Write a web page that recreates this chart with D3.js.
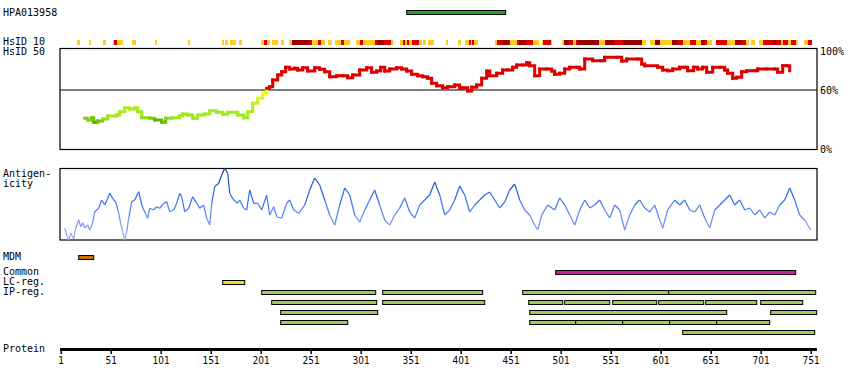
<!DOCTYPE html>
<html>
<head>
<meta charset="utf-8">
<script src="https://cdn.jsdelivr.net/npm/d3@7"></script>
<style>
  body { margin: 0; background: #fff; }
  svg text { font-family: "DejaVu Sans Mono", monospace; font-size: 10px; fill: #000; }
  svg text.tick { font-family: "Liberation Sans Narrow", "DejaVu Sans Condensed", sans-serif; font-size: 10px; }
</style>
</head>
<body>
<svg width="850" height="390"></svg>
<script>
// antibody region (residues)
const hpaRange = [347, 446];

// HsID 10 strip: [start, end, level]  g = gold, r = red, d = dark red
const hsidSegs = [
  [18,21,'g'],[30,32,'g'],[44,47,'g'],[54,55,'g'],[55,58,'r'],[58,64,'g'],[73,77,'g'],[96,98,'g'],[129,131,'g'],
  [163,165,'g'],[166,169,'g'],[171,177,'g'],[180,183,'g'],[202,205,'g'],[205,208,'r'],[208,211,'g'],[213,219,'g'],
  [222,225,'g'],[230,233,'g'],[233,250,'d'],[250,253,'r'],[253,259,'g'],[259,262,'r'],[262,266,'g'],[269,273,'g'],
  [276,282,'g'],[282,285,'r'],[285,291,'g'],[297,301,'g'],[301,304,'r'],[304,316,'g'],[316,319,'r'],[319,325,'d'],
  [325,332,'r'],[332,334,'g'],[341,344,'g'],[344,346,'r'],[346,348,'g'],[348,350,'r'],[350,353,'g'],[353,360,'r'],
  [360,363,'g'],[364,367,'g'],[369,375,'g'],[387,389,'g'],[399,402,'g'],[406,410,'g'],[410,412,'r'],[412,413,'g'],
  [413,415,'r'],[415,419,'g'],[436,438,'g'],[438,444,'r'],[444,450,'d'],[450,451,'r'],[451,458,'g'],[458,460,'r'],
  [460,467,'d'],[467,474,'r'],[474,480,'g'],[483,484,'g'],[484,492,'r'],[492,493,'g'],[503,505,'g'],[505,510,'d'],
  [510,514,'r'],[514,517,'g'],[517,519,'r'],[519,540,'d'],[540,546,'g'],[546,555,'d'],[555,564,'r'],[564,583,'d'],
  [583,587,'g'],[591,596,'g'],[596,601,'d'],[601,613,'g'],[613,618,'d'],[618,624,'r'],[624,631,'g'],[631,637,'r'],
  [637,642,'g'],[642,646,'d'],[646,648,'r'],[648,653,'g'],[657,668,'r'],[668,676,'g'],[676,682,'d'],[682,687,'r'],
  [687,690,'g'],[692,696,'g'],[700,704,'g'],[704,714,'r'],[714,717,'d'],[717,722,'r'],[722,724,'g'],[724,729,'r'],
  [729,732,'g'],[732,737,'r'],[737,739,'g'],[745,749,'g'],[749,753,'r']
];

// HsID 50 conservation (%)
const consPos = [25,28,32,34,38,43,48,57,60,65,70,75,78,82,90,95,102,106,113,120,123,128,133,138,145,150,157,163,168,173,178,184,188,
  193,198,203,207,210,213,218,222,226,230,235,238,243,248,255,260,265,270,277,283,288,293,300,307,312,317,321,325,330,337,342,347,
  352,358,363,368,372,377,383,388,395,400,403,408,412,417,422,427,430,437,443,448,453,457,463,467,470,475,480,487,492,495,500,505,
  510,517,520,525,533,542,545,557,562,567,578,582,585,598,603,608,613,620,625,628,634,638,643,647,653,660,665,668,673,677,682,687,
  695,698,707,715,718,723,727,730];
const consVal = [31.7,30,32.3,27.7,29,31,34,35,38.3,42.3,41,42.3,38.3,32.3,31.7,30,27.7,31.7,32.3,34.3,36,35,31.7,35,36,39.3,37.7,
  35.7,37.7,37.7,35,32.3,38.3,46.7,51.7,56.7,61.7,63.3,70,75,78.3,82.7,81,81.7,80,82.3,79,82.3,80.7,78.3,73.3,74.3,74.3,72.3,75,80,
  82.3,77.7,79,82.7,79,81,82.3,81,79,75.7,74.3,73.3,71.7,66.7,64.3,62.3,63.3,65,61.7,62.3,59,62.7,65,71.7,79,74.3,76.7,80,80,82.7,
  85,85,87.3,84.3,74.3,81,81,79,75.7,76.7,81,82.7,82.7,81,91,89.3,89.3,92.7,92.7,89,91,91,86,84.3,82.7,80,79.3,81,82.7,82.7,79.3,
  82.7,81,82.7,77.7,82.7,82.7,80,76.7,71.7,72.7,78.3,79.3,79.3,81,81,81,77.7,84.3,84.3,79.3];

// antigenicity score
const antiPos = [5,7,9,11,14,16,19,21,23,25,28,30,33,35,39,42,45,48,50,54,56,59,61,63,65,67,69,72,75,79,82,85,88,90,94,97,100,104,
  107,110,114,117,120,122,125,129,133,137,140,144,147,150,152,155,159,162,165,168,170,174,178,180,184,187,190,194,198,202,207,210,
  214,217,222,227,230,234,239,245,250,255,260,265,270,275,280,285,290,295,300,305,310,315,320,325,330,335,340,345,350,355,360,365,
  370,375,380,385,390,395,400,405,410,415,420,425,430,435,440,445,450,455,460,465,470,475,478,482,488,495,500,505,510,515,520,525,
  530,535,540,545,550,555,560,565,570,575,580,585,590,595,600,603,608,615,620,625,630,635,640,645,650,655,660,665,670,675,680,685,
  690,695,700,705,710,715,720,725,730,735,740,745,751];
const antiVal = [11.7,5,0,7,1,12,20,13.3,17.3,12,15,10,17,28.3,31.7,40,35,41.7,46.7,40,38.3,26.7,16.7,8.3,0,8.3,21.7,38.3,40,48.3,
  35,28.3,21.7,31.7,30,33.3,31.7,36.7,38.3,28.3,30,36.7,46.7,43.3,28.3,31.7,43.3,36.7,31.7,35,21.7,15,36.7,53.3,56.7,65,71.7,66.7,
  46.7,40,36.7,40,31.7,30,50,36.7,36.7,30,45,25,33.3,23.3,21.7,36.7,40,30,26.7,35,50,62,55,40,25,15,35,52,45,25,18,30,40,50,35,20,
  15,25,32,42,28,22,35,40,45,58,45,25,30,40,54,45,28,35,40,45,48,40,32,38,50,56,40,30,25,15,10,25,35,30,42,35,25,15,30,40,32,35,40,
  30,22,35,30,10,25,35,40,32,28,35,20,12,30,40,35,40,30,28,35,22,12,30,35,40,45,35,40,30,32,25,30,22,28,25,35,40,52,40,25,20,10];

// feature tracks: [start, end]
const mdm = [[19, 34]];
const common = [[496, 736]];
const lcReg = [[163, 185]];
const ipRows = [
  [[202, 316], [323, 423], [463, 609], [609, 756]],
  [[212, 317], [323, 425], [469, 503], [505, 550], [553, 597], [599, 644], [646, 697], [701, 743]],
  [[221, 318], [470, 667], [711, 757]],
  [[221, 288], [470, 516], [516, 563], [563, 610], [610, 657], [657, 710]],
  [[623, 755]]
];
const tickVals = [1, 51, 101, 151, 201, 251, 301, 351, 401, 451, 501, 551, 601, 651, 701, 751];

const svg = d3.select('svg');
const left = 60, right = 817;

const x = d3.scaleLinear().domain([1, 751]).range([60.7, 810.7]);

// labels
const label = (t, lx, ly) => svg.append('text').attr('x', lx).attr('y', ly).attr('dominant-baseline', 'middle').text(t);
label('HPA013958', 3, 13);
label('HsID 10', 3, 42);
label('HsID 50', 3, 52);
label('Antigen-', 3, 174);
label('icity', 3, 184);
label('MDM', 3, 257);
label('Common', 3, 272);
label('LC-reg.', 3, 282);
label('IP-reg.', 3, 292);
label('Protein', 3, 349);

// antibody bar
svg.append('rect')
  .attr('x', x(hpaRange[0])).attr('y', 10.5)
  .attr('width', x(hpaRange[1]) - x(hpaRange[0])).attr('height', 4)
  .attr('fill', '#1ea51e').attr('stroke', '#000').attr('stroke-width', 1);

// HsID 10 strip
const stripCol = { g: '#ffcc22', r: '#dd0000', d: '#990000' };
svg.append('g').selectAll('rect').data(hsidSegs).join('rect')
  .attr('x', d => x(d[0]) - 0.7)
  .attr('y', 40)
  .attr('width', d => x(d[1]) - x(d[0]))
  .attr('height', 5)
  .attr('fill', d => stripCol[d[2]]);

// conservation panel
const yC = d3.scaleLinear().domain([0, 100]).range([150, 50]);
svg.append('rect').attr('x', left).attr('y', 48.5).attr('width', right - left).attr('height', 101)
  .attr('fill', 'none').attr('stroke', '#000').attr('stroke-width', 1.2);
svg.append('line').attr('x1', left).attr('x2', right).attr('y1', yC(60)).attr('y2', yC(60))
  .attr('stroke', '#000').attr('stroke-width', 1.2);
label('100%', 820, 52);
label('60%', 820, 91);
label('0%', 820, 150);

// stepped segment between two points
const step = (d, yS) => `M${x(d[0][0])},${yS(d[0][1])}H${x(d[1][0])}V${yS(d[1][1])}`;

const consCol = v => v >= 60 ? '#dd0000'
  : d3.scaleLinear().domain([28, 33, 50, 59]).range(['#5aaa00', '#99e81c', '#c8ee22', '#ffff00']).clamp(true)(v);
const consPairs = d3.pairs(consPos.map((p, i) => [p, consVal[i]]));
svg.append('g').selectAll('path').data(consPairs).join('path')
  .attr('d', d => step(d, yC))
  .attr('fill', 'none')
  .attr('stroke', d => consCol((d[0][1] + d[1][1]) / 2))
  .attr('stroke-width', 3).attr('stroke-linecap', 'square');

// antigenicity panel
const yA = d3.scaleLinear().domain([0, 72]).range([240, 168]);
svg.append('rect').attr('x', left).attr('y', 168.5).attr('width', right - left).attr('height', 71.5)
  .attr('fill', 'none').attr('stroke', '#000').attr('stroke-width', 1.2);
const antiCol = d3.scaleLinear().domain([0, 20, 40, 72]).range(['#b0a8ff', '#6f8cf5', '#2f6ff0', '#0a3f9c']);
const antiPairs = d3.pairs(antiPos.map((p, i) => [p, antiVal[i]]));
svg.append('g').selectAll('line').data(antiPairs).join('line')
  .attr('x1', d => x(d[0][0])).attr('y1', d => yA(d[0][1]))
  .attr('x2', d => x(d[1][0])).attr('y2', d => yA(d[1][1]))
  .attr('stroke', d => antiCol((d[0][1] + d[1][1]) / 2))
  .attr('stroke-width', 1.2);

// feature bars
function bars(data, y0, fill) {
  svg.append('g').selectAll('rect').data(data).join('rect')
    .attr('x', d => x(d[0])).attr('y', y0 + 0.5)
    .attr('width', d => x(d[1]) - x(d[0])).attr('height', 4)
    .attr('fill', fill).attr('stroke', '#000').attr('stroke-width', 1);
}
bars(mdm, 255, '#c87000');
bars(common, 270, '#cc1f9e');
bars(lcReg, 280, '#eedd33');
ipRows.forEach((row, i) => bars(row, 290 + i * 10, '#9fcc55'));

// protein axis
svg.append('rect').attr('x', left).attr('y', 348).attr('width', right - left).attr('height', 3).attr('fill', '#000');
const axis = d3.axisBottom(x).tickValues(tickVals).tickSize(4).tickPadding(3);
const gA = svg.append('g').attr('transform', 'translate(0,350)').call(axis);
gA.select('.domain').remove();
gA.selectAll('line').attr('stroke', '#000').attr('stroke-width', 1.5);
gA.selectAll('text').attr('class', 'tick').attr('font-family', null).attr('font-size', null);
</script>
</body>
</html>
